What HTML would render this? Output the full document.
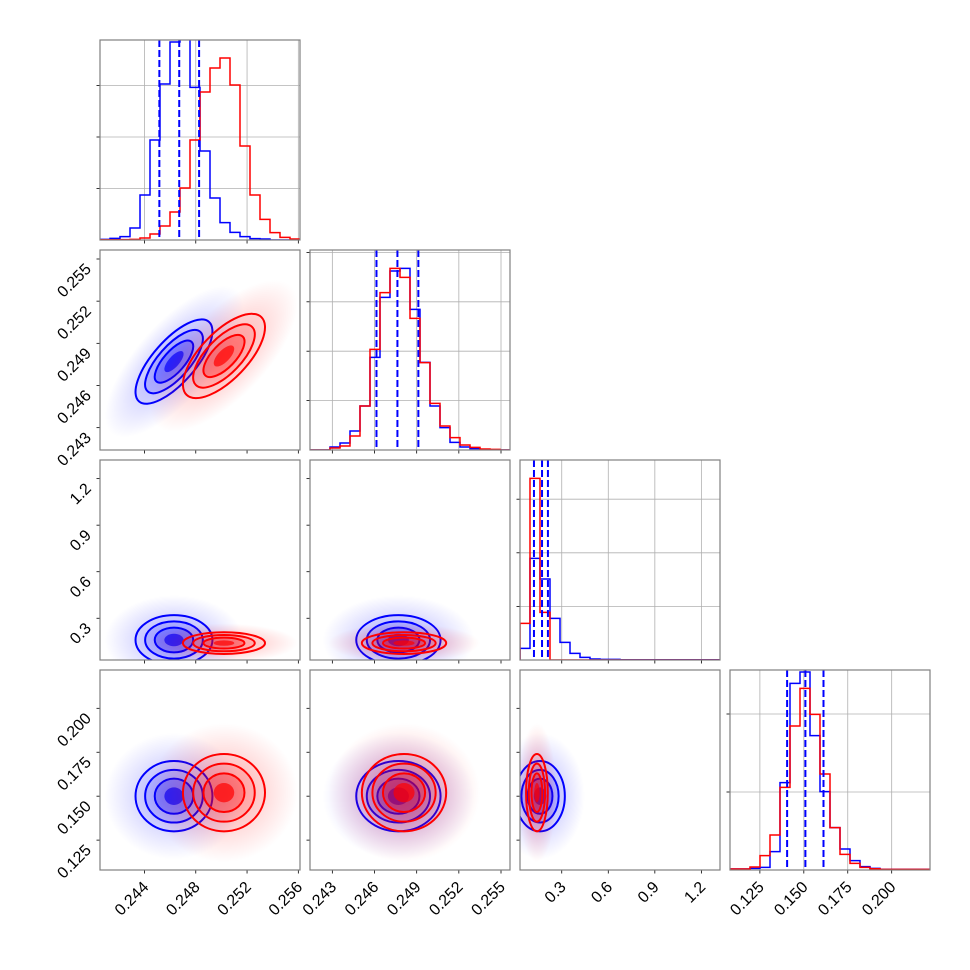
<!DOCTYPE html>
<html><head><meta charset="utf-8"><style>
html,body{margin:0;padding:0;background:#fff;}
svg{display:block;font-family:"Liberation Sans",sans-serif;}
</style></head><body>
<svg id="chart" width="970" height="970" viewBox="0 0 970 970" xmlns="http://www.w3.org/2000/svg">
<defs>
<radialGradient id="gb"><stop offset="0" stop-color="#0000ff" stop-opacity="0.28"/><stop offset="0.6" stop-color="#0000ff" stop-opacity="0.12"/><stop offset="1" stop-color="#0000ff" stop-opacity="0"/></radialGradient>
<radialGradient id="gr"><stop offset="0" stop-color="#ff0000" stop-opacity="0.28"/><stop offset="0.6" stop-color="#ff0000" stop-opacity="0.12"/><stop offset="1" stop-color="#ff0000" stop-opacity="0"/></radialGradient>
</defs>
</svg>
<script>
// ---- data ----
const paramRanges = [[0.24053,0.25613],[0.24141,0.25564],[0.031,1.32],[0.108,0.2218]];
const tickValues = [[0.244,0.248,0.252,0.256],[0.243,0.246,0.249,0.252,0.255],[0.3,0.6,0.9,1.2],[0.125,0.150,0.175,0.200]];
const tickLabels = [["0.244","0.248","0.252","0.256"],["0.243","0.246","0.249","0.252","0.255"],["0.3","0.6","0.9","1.2"],["0.125","0.150","0.175","0.200"]];
const histBlue0 = [0.003,0.008,0.017,0.06,0.225,0.5,0.78,0.99,1.05,0.763,0.445,0.21,0.087,0.038,0.017,0.007,0.005,0,0,0];
const histRed0  = [0.001,0.001,0.002,0.003,0.01,0.03,0.07,0.14,0.26,0.5,0.74,0.86,0.91,0.775,0.47,0.225,0.103,0.037,0.013,0.005];
const histBlue1 = [0,0,0.015,0.035,0.095,0.22,0.463,0.763,0.895,0.908,0.703,0.438,0.22,0.112,0.038,0.015,0.007,0.003,0,0];
const histRed1  = [0,0,0.01,0.02,0.07,0.22,0.503,0.787,0.908,0.863,0.658,0.437,0.233,0.12,0.062,0.025,0.013,0.005,0.003,0];
const histBlue2 = [0.058,0.508,0.405,0.208,0.088,0.033,0.013,0.005,0.003,0.003,0.001,0.001,0.001,0.001,0.001,0.001,0.001,0.001,0.001,0.001];
const histRed2  = [0.183,0.908,0.238,0,0,0,0,0,0,0,0,0,0,0,0,0,0,0,0,0];
const histBlue3 = [0.005,0.005,0.008,0.013,0.092,0.437,0.933,0.99,0.672,0.392,0.212,0.105,0.047,0.017,0.008,0.003,0.003,0.003,0.003,0.003];
const histRed3  = [0.005,0.005,0.015,0.072,0.175,0.413,0.72,0.908,0.778,0.48,0.212,0.078,0.033,0.013,0.006,0.003,0.003,0.003,0.003,0.003];
const histTickStep = [0.2575,0.247,0.268,0.39];
const quantilesBlue = [[0.24516,0.24671,0.24826],[0.24614,0.24763,0.24912],[0.121,0.173,0.211],[0.1405,0.1509,0.1612]];
const meansBlue = [0.2463,0.2477,0.16,0.150];
const meansRed  = [0.2502,0.2481,0.14,0.152];
const sdBlue = [0.0015,0.0015,0.08,0.0100];
const sdRed  = [0.0016,0.0015,0.035,0.011];
const corr01 = [0.72,0.68]; // blue, red correlation between p0 and p1
// ---- layout ----
const svg = document.getElementById('chart');
const NS = 'http://www.w3.org/2000/svg';
const PX = [100,310,520,730], PY = [40,250,460,670], SZ = 200;
function mk(tag, attrs, parent){const e=document.createElementNS(NS,tag);for(const k in attrs)e.setAttribute(k,attrs[k]);(parent||svg).appendChild(e);return e;}
function sx(p,v){return PX[p]+(v-paramRanges[p][0])/(paramRanges[p][1]-paramRanges[p][0])*SZ;}
function sy(p,v){return PY[p]+SZ-(v-paramRanges[p][0])/(paramRanges[p][1]-paramRanges[p][0])*SZ;}
const hists=[[histBlue0,histRed0],[histBlue1,histRed1],[histBlue2,histRed2],[histBlue3,histRed3]];

function clip(id,x,y){const c=mk('clipPath',{id:id},svg.querySelector('defs'));mk('rect',{x:x,y:y,width:SZ,height:SZ},c);}

function histPath(p,vals){
  const n=vals.length, base=PY[p]+SZ;
  let d='M'+PX[p]+','+base;
  for(let i=0;i<n;i++){const x1=PX[p]+i*SZ/n,x2=PX[p]+(i+1)*SZ/n,y=base-vals[i]*SZ;d+=' L'+x1+','+y+' L'+x2+','+y;}
  d+=' L'+(PX[p]+SZ)+','+base;return d;
}

function gaussEllipses(g,col,row,mx,my,sdx,sdy,rho,color,grad){
  const cx=sx(col,mx), cy=sy(row,my);
  const ax=sdx*SZ/(paramRanges[col][1]-paramRanges[col][0]);
  const ay=sdy*SZ/(paramRanges[row][1]-paramRanges[row][0]);
  const a=ax*ax,c=ay*ay,b=-rho*ax*ay;
  const m=(a+c)/2, q=Math.sqrt(((a-c)/2)**2+b*b);
  const r1=Math.sqrt(m+q), r2=Math.sqrt(Math.max(m-q,0.01));
  const ang=0.5*Math.atan2(2*b,a-c)*180/Math.PI;
  const tr='rotate('+ang+' '+cx+' '+cy+')';
  const cl=mk('ellipse',{cx:cx,cy:cy,rx:r1*3.6,ry:r2*3.6,fill:'url(#'+grad+')',transform:tr},g);
  
  
  [[2,0.06],[1.5,0.12],[1,0.25],[0.5,0.7]].forEach(([k,o])=>{
    const e=mk('ellipse',{cx:cx,cy:cy,rx:r1*k,ry:r2*k,fill:color,'fill-opacity':o,transform:tr},g);
    
    
  });
  [2,1.5,1].forEach(k=>{
    const e=mk('ellipse',{cx:cx,cy:cy,rx:r1*k,ry:r2*k,fill:'none',stroke:color,'stroke-width':2,transform:tr},g);
    
    
  });
}

for(let row=0;row<4;row++){
  for(let col=0;col<=row;col++){
    const x=PX[col],y=PY[row];
    const id='c'+row+col; clip(id,x,y);
    const g=mk('g',{});
    
    
    const inner=mk('g',{'clip-path':'url(#'+id+')'},g);
    if(row===col){
      tickValues[col].forEach(v=>mk('line',{x1:sx(col,v),x2:sx(col,v),y1:y,y2:y+SZ,stroke:'#b0b0b0','stroke-width':0.8},inner));
      for(let k=1;k*histTickStep[col]<0.99;k++){const yy=y+SZ-k*histTickStep[col]*SZ;mk('line',{x1:x,x2:x+SZ,y1:yy,y2:yy,stroke:'#b0b0b0','stroke-width':0.8},inner);
        mk('line',{x1:x-3.5,x2:x,y1:yy,y2:yy,stroke:'#000','stroke-width':0.8},g);}
      const hb=mk('path',{d:histPath(col,hists[col][0]),fill:'none',stroke:'#0000ff','stroke-width':1.5},inner);
      
      
      const hr=mk('path',{d:histPath(col,hists[col][1]),fill:'none',stroke:'#ff0000','stroke-width':1.5},inner);
      
      
      quantilesBlue[col].forEach(v=>{const l=mk('line',{x1:sx(col,v),x2:sx(col,v),y1:y,y2:y+SZ,stroke:'#0000ff','stroke-width':2,'stroke-dasharray':'7,3'},inner);
        
        });
    } else {
      const rb = (col===0&&row===1)?corr01[0]:0, rr=(col===0&&row===1)?corr01[1]:0;
      gaussEllipses(inner,col,row,meansBlue[col],meansBlue[row],sdBlue[col],sdBlue[row],rb,'#0000ff','gb');
      gaussEllipses(inner,col,row,meansRed[col],meansRed[row],sdRed[col],sdRed[row],rr,'#ff0000','gr');
      tickValues[row].forEach(v=>{const yy=sy(row,v);if(yy>=y&&yy<=y+SZ)mk('line',{x1:x-3.5,x2:x,y1:yy,y2:yy,stroke:'#000','stroke-width':0.8},g);});
    }
    tickValues[col].forEach(v=>{const xx=sx(col,v);if(xx>=x-1&&xx<=x+SZ+1)mk('line',{x1:xx,x2:xx,y1:y+SZ,y2:y+SZ+3.5,stroke:'#000','stroke-width':0.8},g);});
    const fr=mk('rect',{x:x,y:y,width:SZ,height:SZ,fill:'none',stroke:'#808080','stroke-width':1.2},g);
    
    
  }
}
for(let col=0;col<4;col++){
  tickValues[col].forEach((v,i)=>{const xx=sx(col,v)+5;const yy=PY[3]+SZ+18;
    const t=mk('text',{x:xx,y:yy,'font-size':16,'text-anchor':'end',transform:'rotate(-45 '+xx+' '+yy+')'});
    t.textContent=tickLabels[col][i];
    
    });
}
for(let row=1;row<4;row++){
  tickValues[row].forEach((v,i)=>{const yy=sy(row,v)+11;const xx=PX[0]-8;
    const t=mk('text',{x:xx,y:yy,'font-size':16,'text-anchor':'end',transform:'rotate(-45 '+xx+' '+yy+')'});
    t.textContent=tickLabels[row][i];
    
    });
}
</script>
</body></html>
